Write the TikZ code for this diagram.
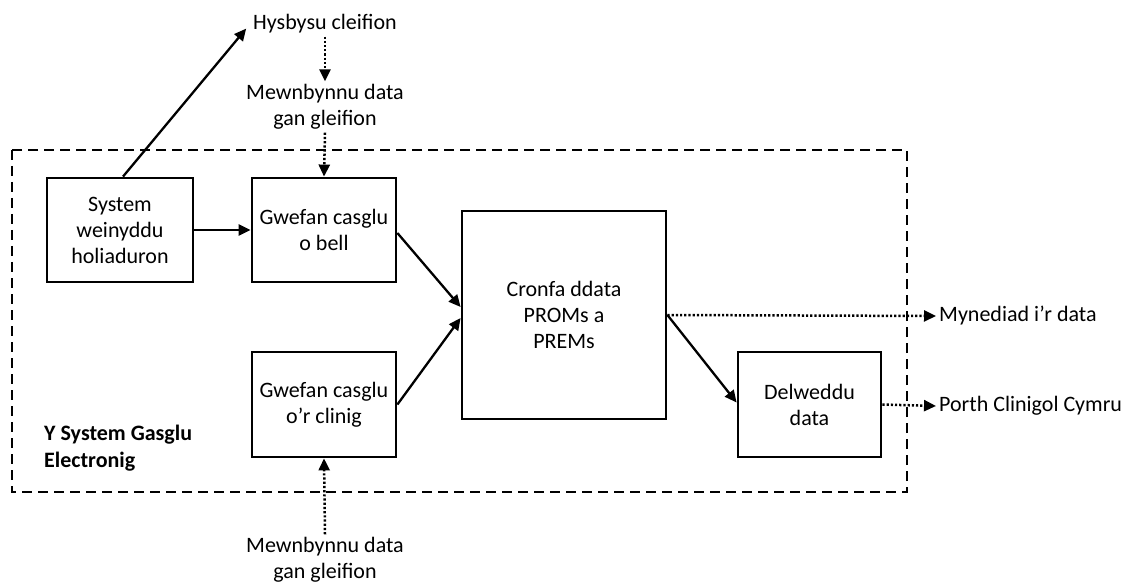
\documentclass[tikz,border=0pt]{standalone}
\usepackage{fontspec}
\setmainfont{Carlito}
\usetikzlibrary{arrows.meta}
\begin{document}
\begin{tikzpicture}[x=1pt,y=-1pt,
  box/.style={draw,line width=2.8pt,inner sep=0pt,align=center,font=\fontsize{22}{26}\selectfont},
  lbl/.style={inner sep=3pt,align=center,font=\fontsize{22}{26}\selectfont},
  arr/.style={line width=2.3pt,-{Triangle[length=12pt,width=11pt]}},
  dotarr/.style={line width=2.5pt,dash pattern=on 2.2pt off 2pt,-{Triangle[length=12pt,width=11pt]}},
  frame/.style={draw,line width=2.8pt,dash pattern=on 10pt off 6pt}]
\useasboundingbox (0,0) rectangle (1129,585);
\fill[white] (0,0) rectangle (1129,585);
\draw[frame] (12,150) rectangle (907,492);
\node[box,minimum width=146pt,minimum height=104pt] (sys) at (120,230) {System\\weinyddu\\holiaduron};
\node[box,minimum width=144pt,minimum height=104pt] (bell) at (324,230) {Gwefan casglu\\o bell};
\node[box,minimum width=144pt,minimum height=105pt] (clin) at (324,404.5) {Gwefan casglu\\o’r clinig};
\node[box,minimum width=204pt,minimum height=208pt] (cron) at (564,315) {Cronfa ddata\\PROMs a\\PREMs};
\node[box,minimum width=143pt,minimum height=105pt] (del) at (809.5,404.5) {Delweddu\\data};
\node[lbl] (hys) at (325,24) {Hysbysu cleifion};
\node[lbl] (mew1) at (325,107) {Mewnbynnu data\\gan gleifion};
\node[lbl] (mew2) at (325,560) {Mewnbynnu data\\gan gleifion};
\node[lbl,anchor=west] (myn) at (936,316) {Mynediad i’r data};
\node[lbl,anchor=west] (porth) at (936,406) {Porth Clinigol Cymru};
\node[lbl,anchor=west,align=left,font=\fontsize{22}{27}\selectfont\bfseries] (ysys) at (41,448) {Y System Gasglu\\Electronig};
\draw[arr,shorten >=6pt] ([xshift=3pt]sys.north) -- (hys.west);
\draw[dotarr] (hys.south) -- (mew1.north);
\draw[dotarr] (mew1.south) -- (bell.north);
\draw[arr] (sys.east) -- (bell.west);
\draw[arr] ([yshift=-3pt]bell.east) -- ([yshift=8pt]cron.west);
\draw[arr] (clin.east) -- ([yshift=-3pt]cron.west);
\draw[dotarr] (cron.east) -- (myn.west);
\draw[arr] (cron.east) -- ([yshift=2pt]del.west);
\draw[dotarr] (del.east) -- (porth.west);
\draw[dotarr] (mew2.north) -- (clin.south);
\end{tikzpicture}
\end{document}
